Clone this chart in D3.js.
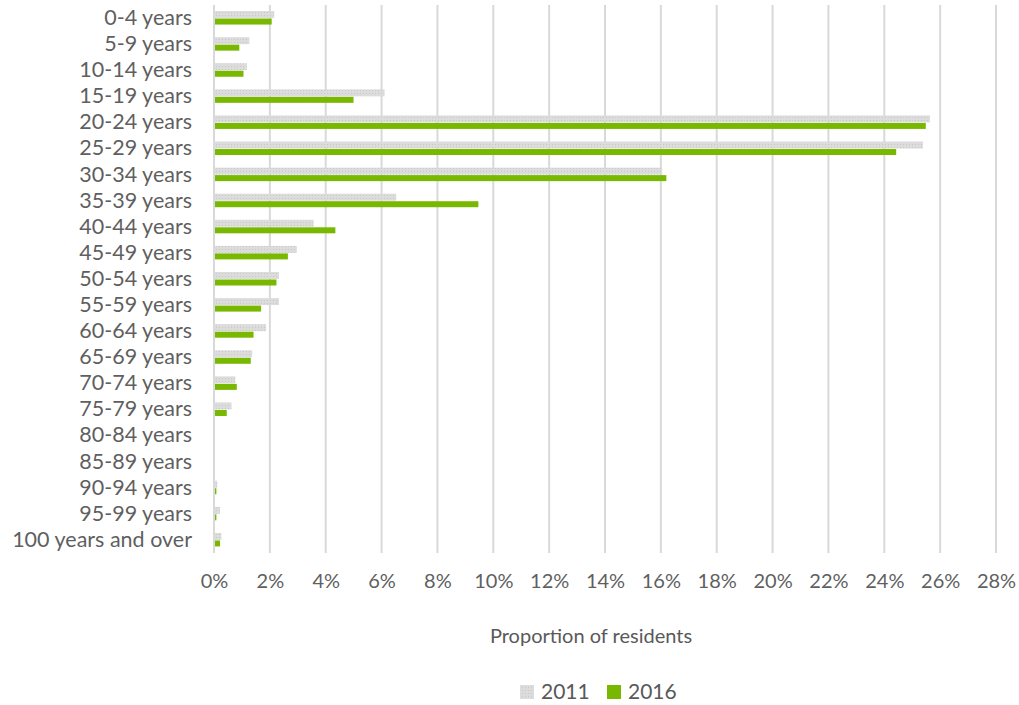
<!DOCTYPE html>
<html>
<head>
<meta charset="utf-8">
<script src="https://cdn.jsdelivr.net/npm/d3@7"></script>
<style>
  html, body { margin: 0; padding: 0; background: #fff; }
  svg text { font-family: Lato, "Open Sans", sans-serif; fill: #595959; }
</style>
</head>
<body>
<svg id="chart" width="1019" height="705"></svg>
<script>
// Age groups and share of residents (%) by census year
const ageGroups = ["0-4 years","5-9 years","10-14 years","15-19 years","20-24 years","25-29 years",
  "30-34 years","35-39 years","40-44 years","45-49 years","50-54 years","55-59 years","60-64 years",
  "65-69 years","70-74 years","75-79 years","80-84 years","85-89 years","90-94 years","95-99 years",
  "100 years and over"];
const values2011 = [2.12,1.23,1.14,6.07,25.6,25.35,16.01,6.49,3.53,2.93,2.29,2.29,1.83,1.33,0.73,0.59,0,0,0.08,0.18,0.23];
const values2016 = [2.03,0.87,1.02,4.96,25.45,24.39,16.16,9.43,4.31,2.61,2.20,1.65,1.38,1.28,0.78,0.42,0,0,0.05,0.05,0.18];
const tickValues = [0,2,4,6,8,10,12,14,16,18,20,22,24,26,28];
const seriesNames = ["2011","2016"];
const seriesColors = ["#d9d9d9","#78b800"];

(function draw() {
  const svg = d3.select("#chart");
  const plotLeft = 214, plotRight = 996, plotTop = 5, plotBottom = 553;
  const font = "Lato, 'Open Sans', sans-serif";

  const x = d3.scaleLinear().domain([0, 28]).range([plotLeft, plotRight]);
  const y = d3.scaleBand().domain(ageGroups).range([plotTop, plotBottom]).paddingInner(0).paddingOuter(0);

  // Light dotted texture for the 2011 bars
  const defs = svg.append("defs");
  const pat = defs.append("pattern").attr("id","dots").attr("width",3).attr("height",3)
    .attr("patternUnits","userSpaceOnUse");
  pat.append("rect").attr("width",3).attr("height",3).attr("fill","#dcdcdc");
  pat.append("rect").attr("width",1).attr("height",1).attr("fill","#c8c8c8");

  // Vertical gridlines
  svg.append("g").selectAll("line").data(tickValues).join("line")
    .attr("x1", d => x(d)).attr("x2", d => x(d))
    .attr("y1", plotTop).attr("y2", plotBottom)
    .attr("stroke", "#d9d9d9").attr("stroke-width", 2);

  // Bars
  const barH = 6.5;
  const g = svg.append("g");
  g.selectAll("rect.s2011").data(values2011).join("rect")
    .attr("class","s2011")
    .attr("x", x(0) + 1)
    .attr("y", (d,i) => y(ageGroups[i]) + y.bandwidth()/2 - barH - 0.5)
    .attr("width", d => Math.max(0, x(d) - x(0)))
    .attr("height", barH + 0.5)
    .attr("fill", "url(#dots)");
  g.selectAll("rect.s2016").data(values2016).join("rect")
    .attr("class","s2016")
    .attr("x", x(0) + 1)
    .attr("y", (d,i) => y(ageGroups[i]) + y.bandwidth()/2 + 0.5)
    .attr("width", d => Math.max(0, x(d) - x(0)))
    .attr("height", barH - 0.5)
    .attr("fill", seriesColors[1]);

  // Category axis (labels only)
  const yAxis = svg.append("g").attr("transform", `translate(${plotLeft},0)`)
    .call(d3.axisLeft(y).tickSize(0).tickPadding(22));
  yAxis.select(".domain").remove();
  yAxis.selectAll("text").attr("font-size", 21.5).style("fill","#5f5f5f")
    .style("font-family", font);

  // Value axis (labels only)
  const xAxis = svg.append("g").attr("transform", `translate(0,${plotBottom})`)
    .call(d3.axisBottom(x).tickValues(tickValues).tickFormat(d => d + "%").tickSize(0).tickPadding(21));
  xAxis.select(".domain").remove();
  xAxis.selectAll("text").attr("font-size", 20).style("fill","#5f5f5f")
    .style("font-family", font);

  // Axis title
  svg.append("text").attr("x", 591).attr("y", 643).attr("text-anchor","middle")
    .attr("font-size", 20).text("Proportion of residents");

  // Legend
  const legend = svg.append("g");
  const legendX = [520, 607];
  seriesNames.forEach((name, i) => {
    legend.append("rect").attr("x", legendX[i]).attr("y", 685).attr("width", 14).attr("height", 14)
      .attr("fill", i === 0 ? "url(#dots)" : seriesColors[1]);
    legend.append("text").attr("x", legendX[i] + 21).attr("y", 699)
      .attr("font-size", 21).text(name);
  });
})();
</script>
</body>
</html>
